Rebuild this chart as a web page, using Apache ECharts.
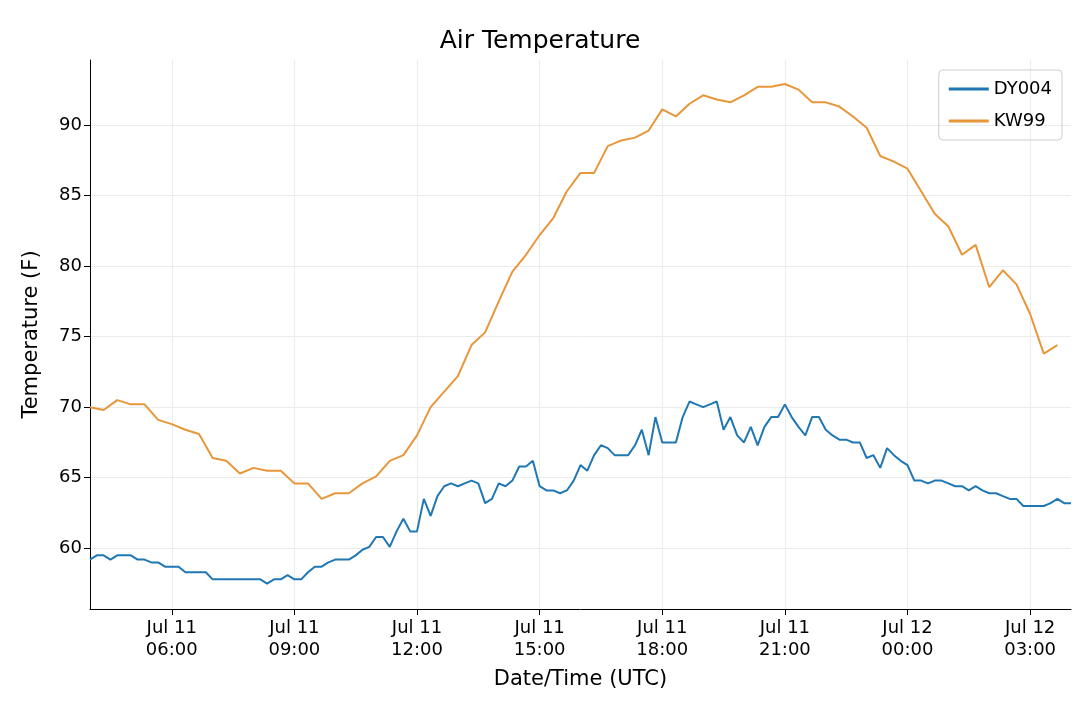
<!DOCTYPE html>
<html>
<head>
<meta charset="utf-8">
<script src="https://cdn.jsdelivr.net/npm/echarts@6/dist/echarts.min.js"></script>
<style>html,body{margin:0;background:#fff}#chart{width:1080px;height:704px}</style>
</head>
<body>
<div id="chart"></div>
<script>
// x values are hours since Jul 11 00:00 UTC; readings start at 04:00
// DY004 every 10 min, KW99 every 20 min
const startHour = 4;
const dy004 = [
  59.2, 59.5, 59.5, 59.2, 59.5, 59.5, 59.5, 59.2, 59.2, 59.0, 59.0, 58.7,
  58.7, 58.7, 58.3, 58.3, 58.3, 58.3, 57.8, 57.8, 57.8, 57.8, 57.8, 57.8,
  57.8, 57.8, 57.5, 57.8, 57.8, 58.1, 57.8, 57.8, 58.3, 58.7, 58.7, 59.0,
  59.2, 59.2, 59.2, 59.5, 59.9, 60.1, 60.8, 60.8, 60.1, 61.2, 62.1, 61.2,
  61.2, 63.5, 62.3, 63.7, 64.4, 64.6, 64.4, 64.6, 64.8, 64.6, 63.2, 63.5,
  64.6, 64.4, 64.8, 65.8, 65.8, 66.2, 64.4, 64.1, 64.1, 63.9, 64.1, 64.8,
  65.9, 65.5, 66.6, 67.3, 67.1, 66.6, 66.6, 66.6, 67.3, 68.4, 66.6, 69.3,
  67.5, 67.5, 67.5, 69.3, 70.4, 70.2, 70.0, 70.2, 70.4, 68.4, 69.3, 68.0,
  67.5, 68.6, 67.3, 68.6, 69.3, 69.3, 70.2, 69.3, 68.6, 68.0, 69.3, 69.3,
  68.4, 68.0, 67.7, 67.7, 67.5, 67.5, 66.4, 66.6, 65.7, 67.1, 66.6, 66.2,
  65.9, 64.8, 64.8, 64.6, 64.8, 64.8, 64.6, 64.4, 64.4, 64.1, 64.4, 64.1,
  63.9, 63.9, 63.7, 63.5, 63.5, 63.0, 63.0, 63.0, 63.0, 63.2, 63.5, 63.2,
  63.2
];
const kw99 = [
  70.0, 69.8, 70.5, 70.2, 70.2, 69.1, 68.8, 68.4, 68.1, 66.4, 66.2, 65.3,
  65.7, 65.5, 65.5, 64.6, 64.6, 63.5, 63.9, 63.9, 64.6, 65.1, 66.2, 66.6,
  68.0, 70.0, 71.1, 72.2, 74.4, 75.3, 77.5, 79.6, 80.8, 82.2, 83.4, 85.3,
  86.6, 86.6, 88.5, 88.9, 89.1, 89.6, 91.1, 90.6, 91.5, 92.1, 91.8, 91.6,
  92.1, 92.7, 92.7, 92.9, 92.5, 91.6, 91.6, 91.3, 90.6, 89.8, 87.8, 87.4,
  86.9, 85.3, 83.7, 82.8, 80.8, 81.5, 78.5, 79.7, 78.7, 76.6, 73.8, 74.4
];
const yTicks = [60, 65, 70, 75, 80, 85, 90];
const xTicks = [6, 9, 12, 15, 18, 21, 24, 27];

const pairs = (vals, stepMin) => vals.map((v, i) => [startHour + i * stepMin / 60, v]);
const font = "DejaVu Sans";

const chart = echarts.init(document.getElementById("chart"));
chart.setOption({
  animation: false,
  textStyle: { fontFamily: font },
  title: { text: "Air Temperature", left: "center", top: 24,
    textStyle: { fontSize: 25, fontWeight: "normal", color: "#000", fontFamily: font } },
  grid: { left: 90, right: 9, top: 60, bottom: 95 },
  legend: {
    orient: "vertical", right: 18, top: 70, itemWidth: 40, itemHeight: 3,
    padding: [10, 10, 10, 10], itemGap: 14,
    borderColor: "#ccc", borderWidth: 1, borderRadius: 4,
    textStyle: { fontSize: 18, color: "#000" },
    data: [{ name: "DY004", icon: "rect" }, { name: "KW99", icon: "rect" }]
  },
  xAxis: {
    type: "value", min: startHour, max: startHour + 24,
    name: "Date/Time (UTC)", nameLocation: "middle", nameGap: 60,
    nameTextStyle: { fontSize: 21, color: "#000" },
    axisLine: { lineStyle: { color: "#000" } },
    axisTick: { customValues: xTicks, length: 6, lineStyle: { color: "#000" } },
    splitLine: { show: true, lineStyle: { color: "#ebebeb" } },
    axisLabel: {
      customValues: xTicks, fontSize: 18, color: "#000", lineHeight: 22,
      formatter: v => {
        const day = v >= 24 ? 12 : 11;
        const hh = String(v % 24).padStart(2, "0");
        return "Jul " + day + "\n" + hh + ":00";
      }
    }
  },
  yAxis: {
    type: "value", min: 55.7, max: 94.6,
    name: "Temperature (F)", nameLocation: "middle", nameGap: 48,
    nameTextStyle: { fontSize: 21, color: "#000" },
    axisLine: { show: true, lineStyle: { color: "#000" } },
    axisTick: { show: true, customValues: yTicks, length: 6, lineStyle: { color: "#000" } },
    splitLine: { show: true, lineStyle: { color: "#ebebeb" } },
    axisLabel: { customValues: yTicks, fontSize: 18, color: "#000" }
  },
  series: [
    { name: "DY004", type: "line", data: pairs(dy004, 10), showSymbol: false,
      color: "#1f77b4", lineStyle: { width: 2 } },
    { name: "KW99", type: "line", data: pairs(kw99, 20), showSymbol: false,
      color: "#e8963a", lineStyle: { width: 2 } }
  ]
});
</script>
</body>
</html>
